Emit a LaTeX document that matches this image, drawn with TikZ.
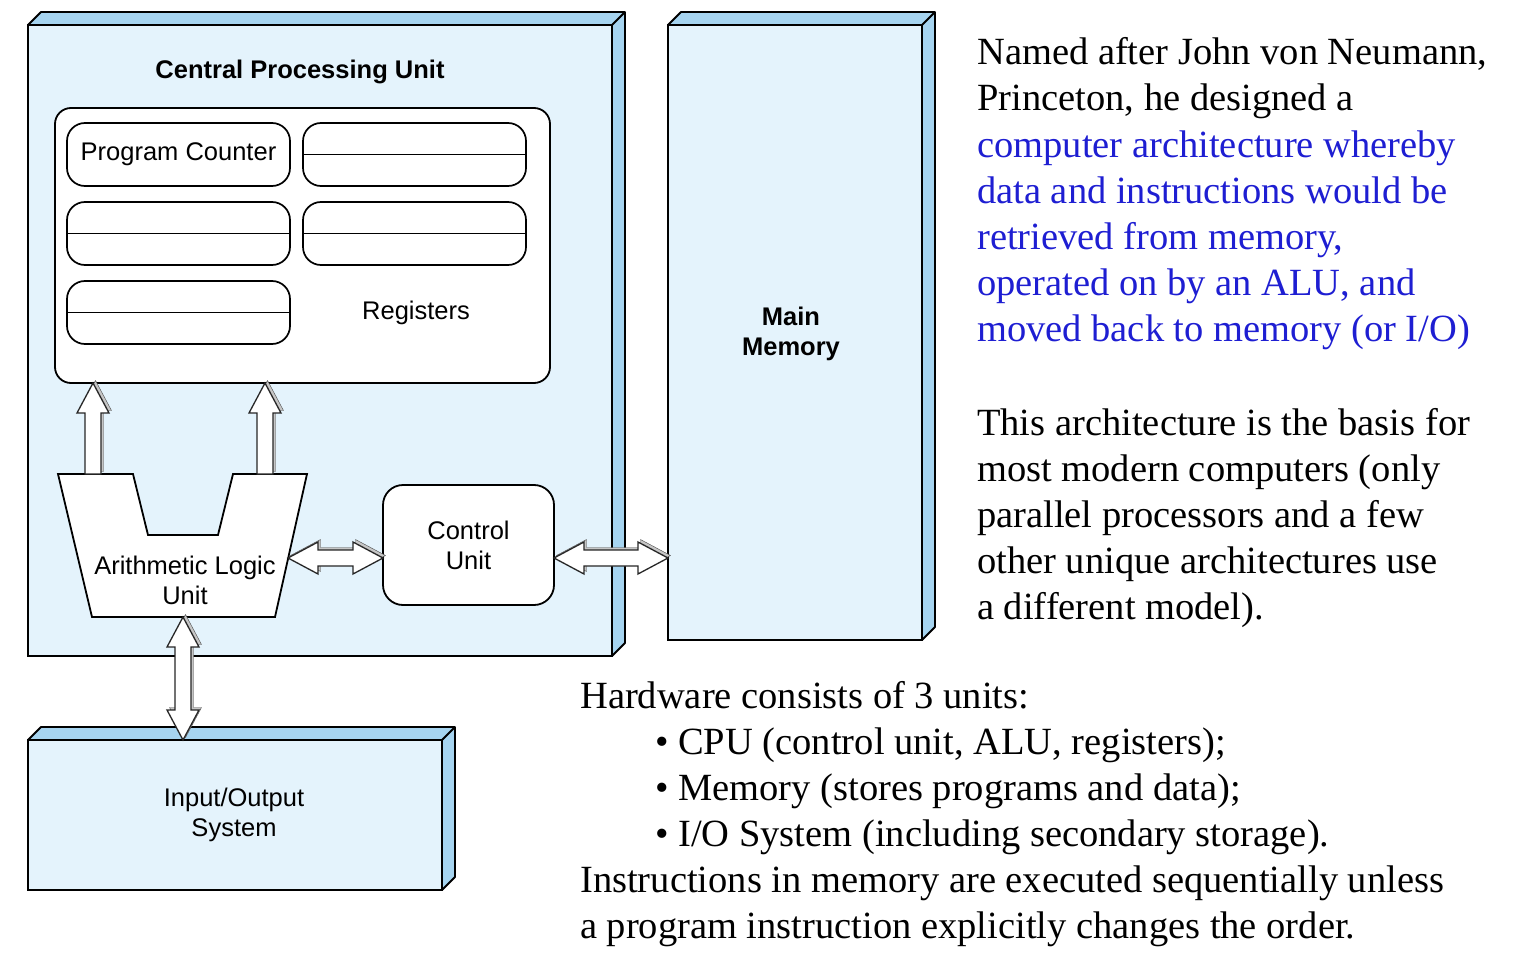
\documentclass[tikz,border=0pt]{standalone}
\usepackage{fontspec}
\setmainfont{Liberation Serif}
\setsansfont{Liberation Sans}
\usepackage{tikz}
\usetikzlibrary{calc,positioning}

\definecolor{faceblue}{RGB}{228,243,252}
\definecolor{sideblue}{RGB}{166,212,240}
\definecolor{textblue}{RGB}{30,30,210}

\newcommand{\txt}{\fontsize{38.5}{46}\selectfont}
\newcommand{\lab}{\sffamily\fontsize{25.5}{30}\selectfont}
\newcommand{\busw}{8pt}
\newcommand{\bush}{16pt}
\newcommand{\busl}{30pt}

\tikzset{
  face/.style={draw,line width=1.8pt,fill=faceblue,inner sep=0pt,outer sep=0pt,anchor=north west},
  side/.style={draw,line width=1.8pt,fill=sideblue,line join=round},
  unit/.style={draw,line width=1.8pt,fill=white,inner sep=0pt,outer sep=0pt,font=\lab,align=center},
  reg/.style={draw,line width=1.7pt,fill=white,rounded corners=18pt,minimum width=223pt,
    minimum height=63pt,inner sep=0pt,outer sep=0pt,font=\lab},
  lab/.style={font=\lab,align=center,inner sep=0pt},
  para/.style={font=\txt,align=left,inner sep=0pt,anchor=base west},
  bus line/.style={draw=black!85,line width=1.3pt,fill=white,line join=miter,
    preaction={draw=black!70,fill=gray!45,transform canvas={shift={(2.5pt,2.5pt)}}}},
  bus/.style={bus line,to path={
    ($(\tikztotarget)!\busl!(\tikztostart)$) coordinate (busT)
    ($(\tikztostart)!\busw!90:(\tikztotarget)$)
    -- ($(busT)!\busw!90:(\tikztotarget)$) -- ($(busT)!\bush!90:(\tikztotarget)$)
    -- (\tikztotarget)
    -- ($(busT)!\bush!-90:(\tikztotarget)$) -- ($(busT)!\busw!-90:(\tikztotarget)$)
    -- ($(\tikztostart)!\busw!-90:(\tikztotarget)$) -- cycle}},
  dbus/.style={bus line,to path={
    ($(\tikztotarget)!\busl!(\tikztostart)$) coordinate (busT)
    ($(\tikztostart)!\busl!(\tikztotarget)$) coordinate (busS)
    (\tikztostart)
    -- ($(busS)!\bush!90:(\tikztotarget)$) -- ($(busS)!\busw!90:(\tikztotarget)$)
    -- ($(busT)!\busw!90:(\tikztotarget)$) -- ($(busT)!\bush!90:(\tikztotarget)$)
    -- (\tikztotarget)
    -- ($(busT)!\bush!-90:(\tikztotarget)$) -- ($(busT)!\busw!-90:(\tikztotarget)$)
    -- ($(busS)!\busw!-90:(\tikztotarget)$) -- ($(busS)!\bush!-90:(\tikztotarget)$)
    -- cycle}}
}

\begin{document}
\begin{tikzpicture}[x=1pt,y=-1pt]
  \useasboundingbox (0,0) rectangle (1517,960);

  % the three boxes
  \node[face,minimum width=584pt,minimum height=631pt] (cpu) at (28,25) {};
  \node[face,minimum width=254pt,minimum height=615pt] (mem) at (668,25) {};
  \node[face,minimum width=414pt,minimum height=150pt] (io) at (28,740) {};
  \foreach \b in {cpu,mem,io}{
    \draw[side] (\b.north west) -- ++(13,-13) -- ($(\b.north east)+(13,-13)$)
      -- ($(\b.south east)+(13,-13)$) -- (\b.south east) -- (\b.north east) -- cycle;
    \draw[line width=1.8pt] (\b.north east) -- ++(13,-13);
  }
  \node[lab,font=\lab\bfseries] (cputitle) at (300,72) {Central Processing Unit};
  \node[lab,font=\lab\bfseries] (memlab) at (791,334) {Main\\Memory};
  \node[lab] (iolab) at (234,815) {Input/Output\\System};

  % registers
  \node[face,fill=white,line width=1.8pt,rounded corners=16pt,
    minimum width=495pt,minimum height=275pt] (regs) at (55,108) {};
  \node[reg,anchor=north west] (pc) at (67,123) {Program Counter};
  \node[reg,right=13pt of pc] (reg1) {};
  \node[reg,below=16pt of pc] (reg2) {};
  \node[reg,right=13pt of reg2] (reg3) {};
  \node[reg,below=16pt of reg2] (reg4) {};
  \foreach \r in {reg1,reg2,reg3,reg4}
    \draw[line width=1.8pt] (\r.west) -- (\r.east);
  \node[lab,right=72pt of reg4] (reglab) {Registers};

  % ALU and control unit
  \draw[unit] (58,474) -- (133,474) -- (148,535) -- (218,535) -- (233,474)
    -- (307,474) -- (275,617) -- (92,617) -- cycle;
  \node[lab] (alu) at (185,580) {Arithmetic Logic\\Unit};
  \coordinate (aluL) at (93,474);
  \coordinate (aluM) at (265,474);
  \coordinate (aluR) at (288,558);
  \coordinate (aluS) at (183,617);
  \node[unit,rounded corners=20pt,minimum width=171pt,minimum height=120pt] (cu) at (468.5,545) {Control\\Unit};

  % buses
  \draw[bus] (aluL) to (aluL |- regs.south);
  \draw[bus] (aluM) to (aluM |- regs.south);
  \draw[dbus] (aluR) to (aluR -| cu.west);
  \draw[dbus] (aluR -| cu.east) to (aluR -| mem.west);
  \draw[dbus] (aluS) to (aluS |- io.north);

  % text (anchored at the baseline of the last line)
  \node[para] (named) at (977,111) {Named after John von Neumann,\\Princeton, he designed a};
  \node[para,text=textblue] (whereby) at (977,341) {computer architecture whereby\\data and instructions would be\\retrieved from memory,\\operated on by an ALU, and\\moved back to memory (or I/O)};
  \node[para] (basis) at (977,619) {This architecture is the basis for\\most modern computers (only\\parallel processors and a few\\other unique architectures use\\a different model).};
  \node[para] (hardware) at (580,708) {Hardware consists of 3 units:};
  \node[para] (units) at (655,846) {\textbullet\ CPU (control unit, ALU, registers);\\\textbullet\ Memory (stores programs and data);\\\textbullet\ I/O System (including secondary storage).};
  \node[para] (order) at (580,938) {Instructions in memory are executed sequentially unless\\a program instruction explicitly changes the order.};
\end{tikzpicture}
\end{document}
